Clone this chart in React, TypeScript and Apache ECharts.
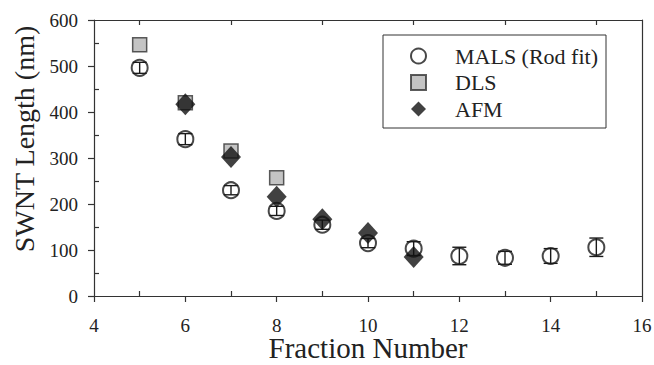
import React, { useEffect, useRef } from "react";
import * as echarts from "echarts";

const malsX = [5, 6, 7, 8, 9, 10, 11, 12, 13, 14, 15];
const malsY = [496, 341, 230, 185, 155, 115, 103, 87, 83, 87, 106];
const malsErr = [12, 12, 10, 10, 10, 10, 15, 19, 14, 16, 20];
const dlsX = [5, 6, 7, 8];
const dlsY = [546, 420, 315, 257];
const afmX = [6, 7, 8, 9, 10, 11];
const afmY = [417, 302, 216, 167, 137, 85];
const xMinorCats = ["4", "5", "6", "7", "8", "9", "10", "11", "12", "13", "14", "15", "16"];
const yMinorCats = ["0", "50", "100", "150", "200", "250", "300", "350", "400", "450", "500", "550", "600"];

const FONT = "Liberation Serif";
const INK = "#222";

export default function App() {
  const ref = useRef<HTMLDivElement>(null);
  useEffect(() => {
    document.body.style.margin = "0";
    const chart = echarts.init(ref.current!, undefined, { renderer: "svg" });
    const oddTick = (i: number) => i % 2 === 1;
    chart.setOption({
      animation: false,
      backgroundColor: "#fff",
      grid: { left: 94, right: 12, top: 20, bottom: 69, containLabel: false, outerBoundsMode: "none" },
      legend: {
        orient: "vertical",
        left: 383,
        top: 35,
        padding: [10, 8, 8, 27],
        itemWidth: 15,
        itemHeight: 15,
        itemGap: 4.5,
        borderColor: "#333",
        borderWidth: 1,
        textStyle: { fontFamily: FONT, fontSize: 22, color: INK, lineHeight: 22, padding: [0, 0, 0, 24] },
        data: [
          { name: "MALS (Rod fit)", icon: "emptyCircle" },
          { name: "DLS", icon: "rect" },
          { name: "AFM", icon: "diamond" },
        ],
      },
      xAxis: [
        {
          type: "value",
          min: 4,
          max: 16,
          interval: 2,
          position: "bottom",
          axisLine: { show: true, onZero: false, lineStyle: { color: "#333", width: 1.2 } },
          axisTick: { show: true, inside: false, length: 6, lineStyle: { color: "#333", width: 1.2 } },
          axisLabel: { fontFamily: FONT, fontSize: 19, color: INK, margin: 20 },
          splitLine: { show: false },
        },
        {
          type: "category",
          data: xMinorCats,
          boundaryGap: false,
          position: "bottom",
          axisLine: { show: false },
          axisTick: { show: true, inside: true, length: 5, interval: oddTick, lineStyle: { color: "#333", width: 1.2 } },
          axisLabel: { show: false },
          splitLine: { show: false },
        },
        {
          type: "category",
          data: xMinorCats,
          boundaryGap: false,
          position: "top",
          axisLine: { show: true, lineStyle: { color: "#333", width: 1.2 } },
          axisTick: { show: true, inside: true, length: 5, interval: oddTick, lineStyle: { color: "#333", width: 1.2 } },
          axisLabel: { show: false },
          splitLine: { show: false },
        },
      ],
      yAxis: [
        {
          type: "value",
          min: 0,
          max: 600,
          interval: 100,
          position: "left",
          axisLine: { show: true, onZero: false, lineStyle: { color: "#333", width: 1.2 } },
          axisTick: { show: true, inside: false, length: 6, lineStyle: { color: "#333", width: 1.2 } },
          axisLabel: { fontFamily: FONT, fontSize: 19, color: INK, margin: 16 },
          splitLine: { show: false },
        },
        {
          type: "category",
          data: yMinorCats,
          boundaryGap: false,
          position: "left",
          axisLine: { show: false },
          axisTick: { show: true, inside: true, length: 5, interval: oddTick, lineStyle: { color: "#333", width: 1.2 } },
          axisLabel: { show: false },
          splitLine: { show: false },
        },
        {
          type: "category",
          data: yMinorCats,
          boundaryGap: false,
          position: "right",
          axisLine: { show: true, lineStyle: { color: "#333", width: 1.2 } },
          axisTick: { show: false },
          axisLabel: { show: false },
          splitLine: { show: false },
        },
      ],
      graphic: [
        {
          type: "text",
          x: 24,
          y: 139,
          rotation: Math.PI / 2,
          style: {
            text: "SWNT Length (nm)",
            fontFamily: FONT,
            fontSize: 28,
            fill: INK,
            textAlign: "center",
            textVerticalAlign: "middle",
          },
        },
        {
          type: "text",
          x: 368,
          y: 348,
          style: {
            text: "Fraction Number",
            fontFamily: FONT,
            fontSize: 29,
            fill: INK,
            textAlign: "center",
            textVerticalAlign: "middle",
          },
        },
      ],
      series: [
        {
          name: "MALS (Rod fit)",
          type: "scatter",
          xAxisIndex: 0,
          yAxisIndex: 0,
          symbol: "emptyCircle",
          symbolSize: 16,
          itemStyle: { color: "#1a1a1a", borderWidth: 1.5 },
          data: malsX.map((x, i) => [x, malsY[i]]),
          z: 2,
        },
        {
          name: "MALS error",
          type: "custom",
          xAxisIndex: 0,
          yAxisIndex: 0,
          z: 3,
          data: malsX.map((x, i) => [x, malsY[i], malsErr[i]]),
          renderItem: (params: any, api: any) => {
            const x = api.value(0);
            const y = api.value(1);
            const e = api.value(2);
            const t = api.coord([x, y + e]);
            const b = api.coord([x, y - e]);
            const hw = 7;
            const st = { stroke: "#1a1a1a", lineWidth: 1.4 };
            return {
              type: "group",
              children: [
                { type: "line", shape: { x1: t[0], y1: t[1], x2: b[0], y2: b[1] }, style: st },
                { type: "line", shape: { x1: t[0] - hw, y1: t[1], x2: t[0] + hw, y2: t[1] }, style: st },
                { type: "line", shape: { x1: b[0] - hw, y1: b[1], x2: b[0] + hw, y2: b[1] }, style: st },
              ],
            };
          },
        },
        {
          name: "DLS",
          type: "scatter",
          xAxisIndex: 0,
          yAxisIndex: 0,
          symbol: "rect",
          symbolSize: 14,
          itemStyle: { color: "#b5b5b5", borderColor: "#333", borderWidth: 1.5 },
          data: dlsX.map((x, i) => [x, dlsY[i]]),
          z: 4,
        },
        {
          name: "AFM",
          type: "scatter",
          xAxisIndex: 0,
          yAxisIndex: 0,
          symbol: "diamond",
          symbolSize: [20, 22],
          itemStyle: { color: "#111" },
          data: afmX.map((x, i) => [x, afmY[i]]),
          z: 5,
        },
      ],
    });
    return () => chart.dispose();
  }, []);
  return <div ref={ref} style={{ width: 654, height: 365 }} />;
}
